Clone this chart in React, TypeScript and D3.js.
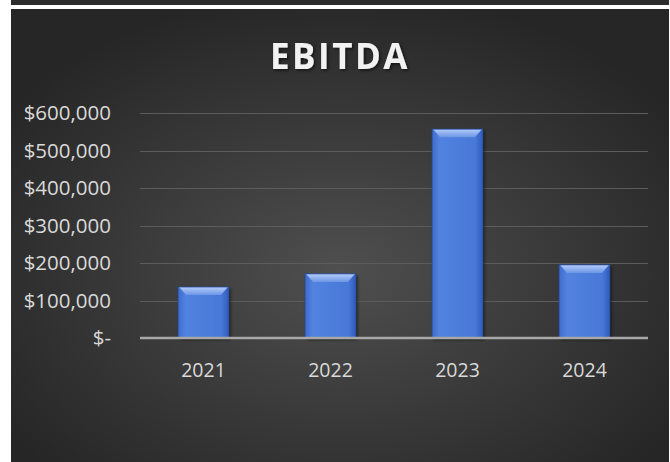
import { useEffect, useRef } from 'react';
import * as d3 from 'd3';

const years = ['2021', '2022', '2023', '2024'];
const ebitda = [136000, 171000, 557000, 195000];
const yTicks = [0, 100000, 200000, 300000, 400000, 500000, 600000];
const title = 'EBITDA';

const W = 670;
const H = 462;

export default function App() {
  const svgRef = useRef<SVGSVGElement>(null);

  useEffect(() => {
    if (!svgRef.current) return;
    const svg = d3.select(svgRef.current);
    svg.selectAll('*').remove();

    const defs = svg.append('defs');

    const bg = defs.append('radialGradient')
      .attr('id', 'bg')
      .attr('cx', '50%').attr('cy', '58%').attr('r', '62%');
    bg.append('stop').attr('offset', '0%').attr('stop-color', '#4f4f4f');
    bg.append('stop').attr('offset', '100%').attr('stop-color', '#262626');

    const barGrad = defs.append('linearGradient')
      .attr('id', 'barGrad')
      .attr('x1', 0).attr('x2', 1).attr('y1', 0).attr('y2', 0);
    barGrad.append('stop').attr('offset', '0%').attr('stop-color', '#3e6bcc');
    barGrad.append('stop').attr('offset', '15%').attr('stop-color', '#5283e0');
    barGrad.append('stop').attr('offset', '85%').attr('stop-color', '#4878d8');
    barGrad.append('stop').attr('offset', '100%').attr('stop-color', '#2f5cbc');

    const topGrad = defs.append('linearGradient')
      .attr('id', 'topGrad')
      .attr('x1', 0).attr('x2', 0).attr('y1', 0).attr('y2', 1);
    topGrad.append('stop').attr('offset', '0%').attr('stop-color', '#b4cdfa');
    topGrad.append('stop').attr('offset', '100%').attr('stop-color', '#6d96e6');

    const shadow = defs.append('filter').attr('id', 'shadow')
      .attr('x', '-20%').attr('y', '-20%').attr('width', '140%').attr('height', '140%');
    shadow.append('feDropShadow')
      .attr('dx', 1.5).attr('dy', 1.5).attr('stdDeviation', 1.5)
      .attr('flood-color', '#000').attr('flood-opacity', 0.6);

    // strip of the chart above (cropped)
    svg.append('rect').attr('x', 11).attr('y', 0).attr('width', 658).attr('height', 5).attr('fill', '#2c2c2c');

    // chart area
    svg.append('rect')
      .attr('x', 11).attr('y', 9).attr('width', 658).attr('height', H - 9)
      .attr('fill', 'url(#bg)');

    const margin = { left: 140, right: 22, top: 113, bottom: 124 };
    const x = d3.scaleBand<string>()
      .domain(years)
      .range([margin.left, W - margin.right])
      .paddingInner(0.6)
      .paddingOuter(0.3);

    const y = d3.scaleLinear()
      .domain([0, 600000])
      .range([H - margin.bottom, margin.top]);

    // title
    svg.append('text')
      .attr('x', 340).attr('y', 69)
      .attr('text-anchor', 'middle')
      .attr('font-family', '"Open Sans", sans-serif')
      .attr('font-weight', 700)
      .attr('font-size', 35)
      .attr('letter-spacing', 2.5)
      .attr('fill', '#f2f2f2')
      .attr('filter', 'url(#shadow)')
      .text(title);

    // gridlines
    svg.append('g')
      .selectAll('line')
      .data(yTicks.filter(d => d > 0))
      .join('line')
      .attr('x1', margin.left).attr('x2', W - margin.right)
      .attr('y1', d => Math.round(y(d)) + 0.5).attr('y2', d => Math.round(y(d)) + 0.5)
      .attr('stroke', '#5c5c5c')
      .attr('stroke-width', 1.2);

    // y axis labels
    svg.append('g')
      .selectAll('text')
      .data(yTicks)
      .join('text')
      .attr('x', 111)
      .attr('y', d => y(d))
      .attr('dy', '0.36em')
      .attr('text-anchor', 'end')
      .attr('font-family', '"Open Sans", sans-serif')
      .attr('font-size', 20.5)
      .attr('fill', '#d9d9d9')
      .text(d => (d === 0 ? '$-' : '$' + d3.format(',')(d)));

    // bars
    const bars = svg.append('g')
      .selectAll('g')
      .data(years.map((yr, i) => ({ yr, v: ebitda[i] })))
      .join('g');

    bars.each(function (d) {
      const g = d3.select(this);
      const x0 = x(d.yr)!;
      const bw = x.bandwidth();
      const y0 = y(d.v);
      const y1 = y(0);
      const bev = 8;
      g.append('rect')
        .attr('x', x0).attr('y', y0).attr('width', bw).attr('height', y1 - y0)
        .attr('fill', 'url(#barGrad)')
        .attr('filter', 'url(#shadow)');
      // top bevel
      g.append('polygon')
        .attr('points', `${x0 + 1},${y0} ${x0 + bw - 1},${y0} ${x0 + bw - bev},${y0 + bev} ${x0 + bev},${y0 + bev}`)
        .attr('fill', 'url(#topGrad)');
      g.append('rect')
        .attr('x', x0).attr('y', y0).attr('width', bw).attr('height', y1 - y0)
        .attr('fill', 'none')
        .attr('stroke', '#2a4f9e')
        .attr('stroke-width', 0.8);
    });

    // baseline
    svg.append('line')
      .attr('x1', margin.left).attr('x2', W - margin.right)
      .attr('y1', y(0)).attr('y2', y(0))
      .attr('stroke', '#a8a8a8')
      .attr('stroke-width', 2.5);

    // x axis labels
    svg.append('g')
      .selectAll('text')
      .data(years)
      .join('text')
      .attr('x', d => x(d)! + x.bandwidth() / 2)
      .attr('y', 377)
      .attr('text-anchor', 'middle')
      .attr('font-family', '"Open Sans", sans-serif')
      .attr('font-size', 19.5)
      .attr('fill', '#d9d9d9')
      .text(d => d);
  }, []);

  return (
    <svg
      ref={svgRef}
      width={W}
      height={H}
      style={{ position: 'absolute', left: 0, top: 0, background: '#fff' }}
    />
  );
}
